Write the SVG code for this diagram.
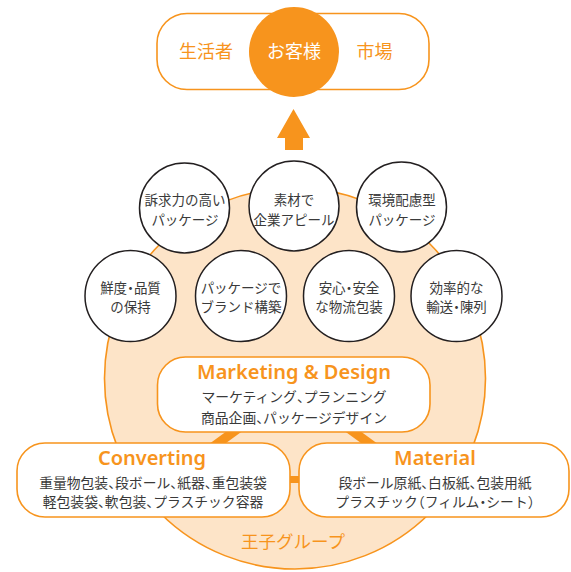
<svg xmlns="http://www.w3.org/2000/svg" width="571" height="572" viewBox="0 0 571 572">
<style>
.jp{font-family:"Noto Sans CJK JP","Noto Sans",sans-serif;}
.ct{font-size:13.5px;fill:#3a3a3a;text-anchor:middle;}
.bt{font-size:13.8px;fill:#3a3a3a;text-anchor:middle;}
.p{font-feature-settings:"halt";}
.ttl{font-family:"Noto Sans",sans-serif;font-weight:600;font-size:20px;fill:#f7941d;text-anchor:middle;}
.sc{fill:#fff;stroke:#231f20;stroke-width:1.5;}
.box{fill:#fff;stroke:#f7941d;stroke-width:1.6;}
.top{font-size:18px;text-anchor:middle;}
</style>
<rect width="571" height="572" fill="#fff"/>
<g id="oji-group">
<circle cx="295" cy="378.5" r="190.5" fill="#fde4c8" stroke="#f7941d" stroke-width="1.6"/>
<text class="jp" x="293" y="548" font-size="17.5" fill="#f7941d" text-anchor="middle">王子グループ</text>
</g>
<g id="customer">
<rect x="157" y="13.5" width="272" height="76" rx="30" fill="#fff" stroke="#f7941d" stroke-width="1.6"/>
<circle cx="294" cy="52" r="45" fill="#f7941d"/>
<text class="jp top" x="206" y="58" fill="#f7941d">生活者</text>
<text class="jp top" x="294" y="58" fill="#fff">お客様</text>
<text class="jp top" x="374.5" y="58" fill="#f7941d">市場</text>
</g>
<g id="arrow">
<polygon points="293.5,109 277,138 285,138 285,150 303,150 303,138 310,138" fill="#f7941d"/>
</g>
<g id="connectors" stroke="#f7941d" stroke-width="9" fill="none">
<line x1="210" y1="449" x2="243" y2="425"/>
<line x1="377" y1="449" x2="344" y2="425"/>
<rect x="289" y="476" width="10" height="7" fill="#f7941d" stroke="none"/>
</g>
<g id="marketing">
<rect class="box" x="157.5" y="357" width="272.5" height="75" rx="28"/>
<text class="ttl" x="294" y="379">Marketing &amp; Design</text>
<text class="jp bt" x="294" y="402">マーケティング<tspan class="p">、</tspan>プランニング</text>
<text class="jp bt" x="294" y="423">商品企画<tspan class="p">、</tspan>パッケージデザイン</text>
</g>
<g id="converting">
<rect class="box" x="17" y="443" width="273" height="74" rx="28"/>
<text class="ttl" x="152" y="465">Converting</text>
<text class="jp bt" x="153" y="488">重量物包装<tspan class="p">、</tspan>段ボール<tspan class="p">、</tspan>紙器<tspan class="p">、</tspan>重包装袋</text>
<text class="jp bt" x="153" y="507">軽包装袋<tspan class="p">、</tspan>軟包装<tspan class="p">、</tspan>プラスチック容器</text>
</g>
<g id="material">
<rect class="box" x="299" y="443" width="270" height="74" rx="28"/>
<text class="ttl" x="435" y="465">Material</text>
<text class="jp bt" x="435" y="488">段ボール原紙<tspan class="p">、</tspan>白板紙<tspan class="p">、</tspan>包装用紙</text>
<text class="jp bt" x="435" y="507">プラスチック<tspan class="p">（</tspan>フィルム<tspan class="p">・</tspan>シート<tspan class="p">）</tspan></text>
</g>
<g id="c1">
<circle class="sc" cx="184.5" cy="208" r="45"/>
<text class="jp ct" x="185" y="205">訴求力の高い</text>
<text class="jp ct" x="185" y="225">パッケージ</text>
</g>
<g id="c2">
<circle class="sc" cx="294" cy="206" r="45"/>
<text class="jp ct" x="294" y="205">素材で</text>
<text class="jp ct" x="294" y="225">企業アピール</text>
</g>
<g id="c3">
<circle class="sc" cx="401.5" cy="207" r="45"/>
<text class="jp ct" x="402" y="205">環境配慮型</text>
<text class="jp ct" x="402" y="225">パッケージ</text>
</g>
<g id="c4">
<circle class="sc" cx="130.5" cy="296" r="45.5"/>
<text class="jp ct" x="130.5" y="293">鮮度<tspan class="p">・</tspan>品質</text>
<text class="jp ct" x="130.5" y="312">の保持</text>
</g>
<g id="c5">
<circle class="sc" cx="241" cy="296" r="45.5"/>
<text class="jp ct" x="241" y="293">パッケージで</text>
<text class="jp ct" x="241" y="312">ブランド構築</text>
</g>
<g id="c6">
<circle class="sc" cx="349" cy="296" r="45.5"/>
<text class="jp ct" x="349" y="293">安心<tspan class="p">・</tspan>安全</text>
<text class="jp ct" x="349" y="312">な物流包装</text>
</g>
<g id="c7">
<circle class="sc" cx="456.5" cy="296" r="45.5"/>
<text class="jp ct" x="456.5" y="293">効率的な</text>
<text class="jp ct" x="456.5" y="312">輸送<tspan class="p">・</tspan>陳列</text>
</g>
</svg>
